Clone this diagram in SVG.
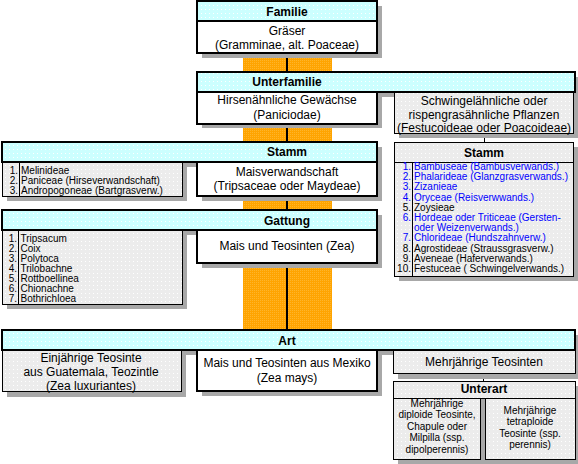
<svg xmlns="http://www.w3.org/2000/svg" width="578" height="464" viewBox="0 0 578 464">
<style>
text{font-family:"Liberation Sans",Arial,sans-serif;fill:#000}
.h{font-size:12px;font-weight:bold;text-anchor:middle}
.b{font-size:12px;text-anchor:middle}
.s{font-size:10px}
.sc{font-size:10px;text-anchor:middle}
.n{font-size:10px;text-anchor:end}
.bl{fill:#0000ff}
.hd{fill:url(#cy);stroke:#000;stroke-width:2}
.wb{fill:#fff;stroke:#000;stroke-width:2}
.gb{fill:url(#gr);stroke:#000;stroke-width:1}
.sh{fill:#a8a8a8}
.ln{stroke:#000;stroke-width:1}
.cl{stroke:#000;stroke-width:2}
</style>
<defs>
<pattern id="cy" width="4" height="4" patternUnits="userSpaceOnUse"><rect width="4" height="4" fill="#ccffff"/><rect x="1" y="1" width="1" height="1" fill="#ffffff"/></pattern>
<pattern id="gr" width="4" height="4" patternUnits="userSpaceOnUse"><rect width="4" height="4" fill="#ececec"/><rect x="1" y="1" width="1" height="1" fill="#ffffff"/></pattern>
<pattern id="or" width="2" height="2" patternUnits="userSpaceOnUse"><rect width="2" height="2" fill="#ffa400"/><rect x="0" y="0" width="1" height="1" fill="#ffb52a"/></pattern>
</defs>
<rect x="243" y="53" width="89" height="277" fill="url(#or)"/>
<g id="connectors">
<line class="cl" x1="287" y1="53" x2="287" y2="330"/>
<line class="ln" x1="484.5" y1="134" x2="484.5" y2="142"/>
<line class="ln" x1="483.5" y1="374" x2="483.5" y2="381"/>
</g>
<g id="familie">
<rect class="sh" x="202" y="6" width="180" height="52"/>
<rect class="hd" x="197" y="1" width="180" height="20"/>
<text class="h" x="287" y="15.5">Familie</text>
<rect class="wb" x="197" y="21" width="180" height="32"/>
<text class="b" x="287" y="35">Gräser</text>
<text class="b" x="287" y="48.5">(Gramminae, alt. Poaceae)</text>
</g>
<g id="unterfamilie">
<rect class="sh" x="202" y="77" width="376" height="20"/>
<rect class="hd" x="197" y="72" width="378" height="20"/>
<text class="h" x="287" y="86">Unterfamilie</text>
</g>
<g id="hirsen">
<rect class="sh" x="202" y="97" width="180" height="31"/>
<rect class="wb" x="197" y="92" width="180" height="32"/>
<text class="b" x="287" y="104.3">Hirsenähnliche Gewächse</text>
<text class="b" x="287" y="118.5">(Paniciodae)</text>
</g>
<g id="schwingel">
<rect class="sh" x="399" y="97" width="179" height="41"/>
<rect class="gb" x="394.5" y="92.5" width="179" height="41"/>
<text class="b" x="484" y="105">Schwingelähnliche oder</text>
<text class="b" x="484" y="118.5">rispengrasähnliche Pflanzen</text>
<text class="b" x="484" y="132">(Festucoideae oder Poacoideae)</text>
</g>
<g id="stamm-links">
<rect class="sh" x="7" y="147" width="375" height="20"/>
<rect class="sh" x="7" y="167" width="180" height="34"/>
<rect class="gb" x="2.5" y="162.5" width="180" height="34"/>
<line class="ln" x1="19.5" y1="162" x2="19.5" y2="197"/>
<text class="n" x="18" y="173.5">1.</text><text class="s" x="21" y="173.5">Melinideae</text>
<text class="n" x="18" y="183.8">2.</text><text class="s" x="21" y="183.8">Paniceae (Hirseverwandschaft)</text>
<text class="n" x="18" y="194">3.</text><text class="s" x="21" y="194">Andropogoneae (Bartgrasverw.)</text>
<rect class="hd" x="2" y="142" width="375" height="20"/>
<text class="h" x="287" y="156">Stamm</text>
</g>
<g id="maisverwandschaft">
<rect class="sh" x="202" y="167" width="180" height="34"/>
<rect class="wb" x="197" y="162" width="180" height="34"/>
<text class="b" x="287" y="176">Maisverwandschaft</text>
<text class="b" x="287" y="189.5">(Tripsaceae oder Maydeae)</text>
</g>
<g id="stamm-rechts">
<rect class="sh" x="399" y="147" width="179" height="134"/>
<rect class="gb" x="394.5" y="142.5" width="179" height="134"/>
<line class="ln" x1="394" y1="162.5" x2="574" y2="162.5"/>
<line class="ln" x1="412.5" y1="162" x2="412.5" y2="277"/>
<text class="h" x="484" y="157">Stamm</text>
<g class="bl">
<text class="n bl" x="411" y="170">1.</text><text class="s bl" x="414" y="170">Bambuseae (Bambusverwands.)</text>
<text class="n bl" x="411" y="180.2">2.</text><text class="s bl" x="414" y="180.2">Phalarideae (Glanzgrasverwands.)</text>
<text class="n bl" x="411" y="190.4">3.</text><text class="s bl" x="414" y="190.4">Zizanieae</text>
<text class="n bl" x="411" y="200.6">4.</text><text class="s bl" x="414" y="200.6">Oryceae (Reisverwwands.)</text>
</g>
<text class="n" x="411" y="210.8">5.</text><text class="s" x="414" y="210.8">Zoysieae</text>
<text class="n bl" x="411" y="221">6.</text><text class="s bl" x="414" y="221">Hordeae oder Triticeae (Gersten-</text>
<text class="s bl" x="414" y="231.2">oder  Weizenverwands.)</text>
<text class="n bl" x="411" y="241.4">7.</text><text class="s bl" x="414" y="241.4">Chlorideae (Hundszahnverw.)</text>
<text class="n" x="411" y="251.6">8.</text><text class="s" x="414" y="251.6">Agrostideae (Straussgrasverw.)</text>
<text class="n" x="411" y="261.8">9.</text><text class="s" x="414" y="261.8">Aveneae (Haferverwands.)</text>
<text class="n" x="411" y="272">10.</text><text class="s" x="414" y="272">Festuceae ( Schwingelverwands.)</text>
</g>
<g id="gattung-links">
<rect class="sh" x="7" y="215" width="375" height="20"/>
<rect class="sh" x="7" y="235" width="180" height="74"/>
<rect class="gb" x="2.5" y="230.5" width="180" height="74"/>
<line class="ln" x1="18.5" y1="230" x2="18.5" y2="305"/>
<text class="n" x="17" y="241.8">1.</text><text class="s" x="20.5" y="241.8">Tripsacum</text>
<text class="n" x="17" y="251.8">2.</text><text class="s" x="20.5" y="251.8">Coix</text>
<text class="n" x="17" y="261.8">3.</text><text class="s" x="20.5" y="261.8">Polytoca</text>
<text class="n" x="17" y="271.8">4.</text><text class="s" x="20.5" y="271.8">Trilobachne</text>
<text class="n" x="17" y="281.8">5.</text><text class="s" x="20.5" y="281.8">Rottboellinea</text>
<text class="n" x="17" y="291.8">6.</text><text class="s" x="20.5" y="291.8">Chionachne</text>
<text class="n" x="17" y="301.8">7.</text><text class="s" x="20.5" y="301.8">Bothrichloea</text>
<rect class="hd" x="2" y="210" width="375" height="20"/>
<text class="h" x="287" y="224.5">Gattung</text>
</g>
<g id="gattung">
<rect class="sh" x="202" y="235" width="180" height="33"/>
<rect class="wb" x="197" y="230" width="180" height="33"/>
<text class="b" x="287" y="250">Mais und Teosinten (Zea)</text>
</g>
<g id="art">
<rect class="sh" x="7" y="335" width="571" height="20"/>
<rect class="hd" x="2" y="330" width="573" height="20"/>
<text class="h" x="287" y="344.5">Art</text>
</g>
<g id="einjaehrige">
<rect class="sh" x="7" y="355" width="179" height="42"/>
<rect class="gb" x="2.5" y="350.5" width="179" height="41"/>
<text class="b" x="91" y="362">Einjährige Teosinte</text>
<text class="b" x="91" y="376">aus Guatemala, Teozintle</text>
<text class="b" x="91" y="389.5">(Zea luxuriantes)</text>
</g>
<g id="mexiko">
<rect class="sh" x="202" y="355" width="180" height="41"/>
<rect class="wb" x="197" y="350" width="180" height="41"/>
<text class="b" x="287" y="367">Mais und Teosinten aus Mexiko</text>
<text class="b" x="287" y="382">(Zea mays)</text>
</g>
<g id="mehrjaehrige">
<rect class="sh" x="398" y="355" width="180" height="24"/>
<rect class="gb" x="393.5" y="350.5" width="182" height="23"/>
<text class="b" x="484" y="366">Mehrjährige Teosinten</text>
</g>
<g id="unterart">
<rect class="sh" x="398" y="386" width="180" height="78"/>
<rect class="gb" x="393.5" y="381.5" width="182" height="17"/>
<text class="h" x="484" y="393">Unterart</text>
</g>
<g id="diploide">
<rect class="gb" x="393.5" y="398.5" width="87" height="61"/>
<text class="sc" x="437" y="406.5">Mehrjährige</text>
<text class="sc" x="437" y="418">diploide Teosinte,</text>
<text class="sc" x="437" y="429.5">Chapule oder</text>
<text class="sc" x="437" y="441">Milpilla (ssp.</text>
<text class="sc" x="437" y="452.5">dipolperennis)</text>
</g>
<g id="tetraploide">
<rect class="gb" x="485.5" y="398.5" width="90" height="61"/>
<text class="sc" x="530" y="413.5">Mehrjährige</text>
<text class="sc" x="530" y="425">tetraploide</text>
<text class="sc" x="530" y="436.5">Teosinte (ssp.</text>
<text class="sc" x="530" y="448">perennis)</text>
</g>
</svg>
